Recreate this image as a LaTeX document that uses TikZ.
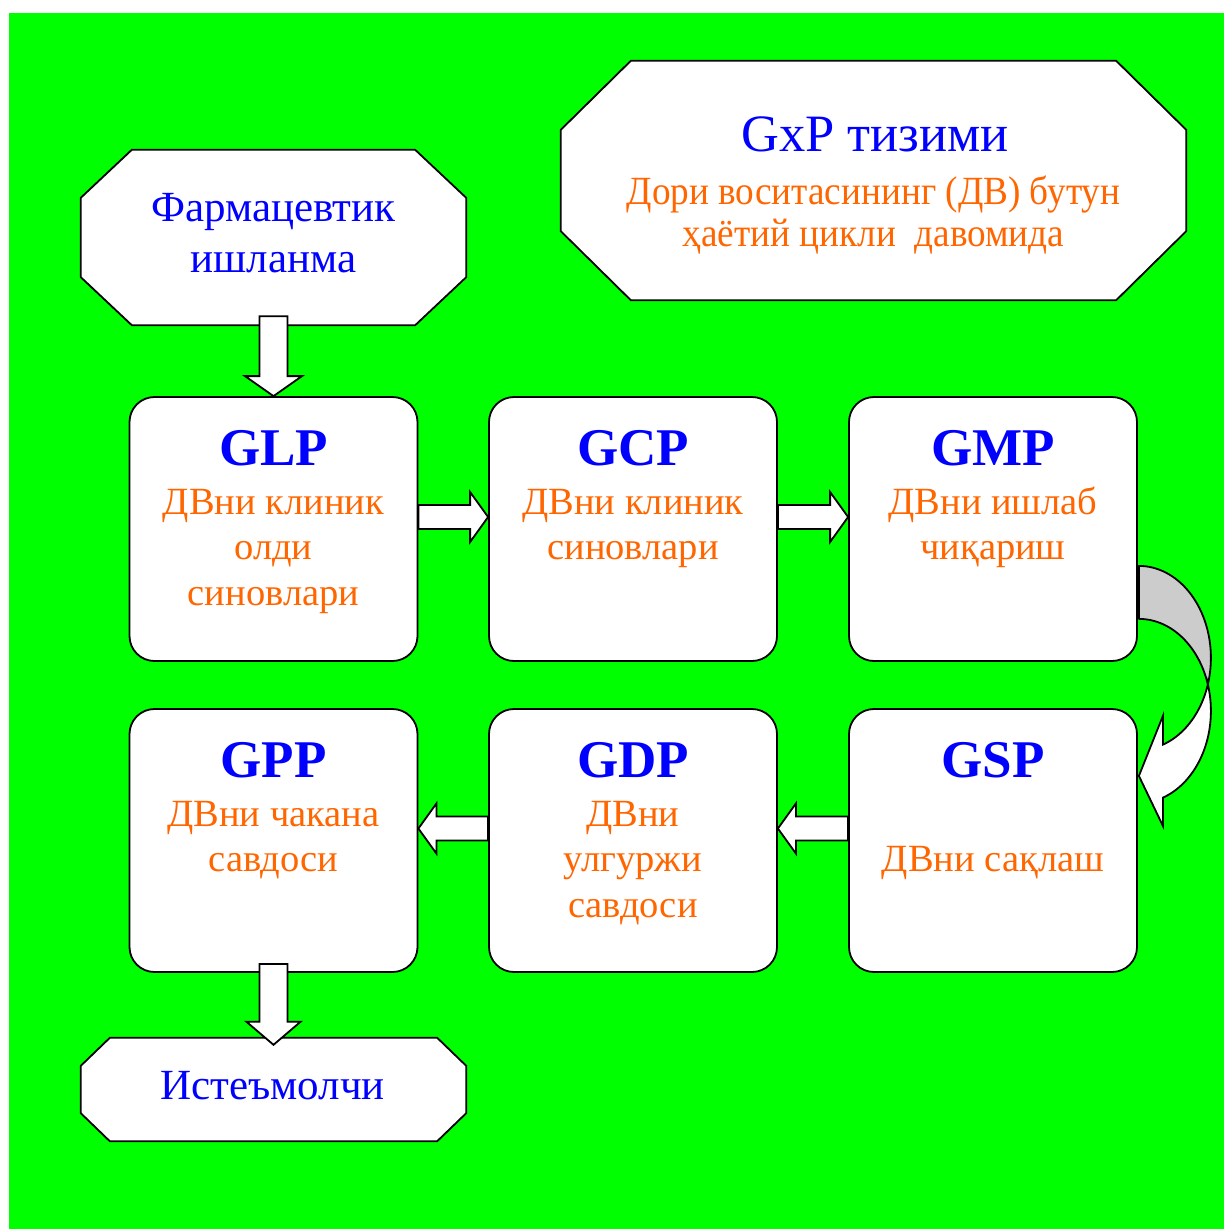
\documentclass[tikz,border=0pt]{standalone}
\usepackage{fontspec}
\setmainfont{Liberation Serif}
\usetikzlibrary{calc}
\definecolor{bggreen}{RGB}{0,255,0}
\definecolor{tblue}{RGB}{0,0,255}
\definecolor{torange}{RGB}{255,102,0}
\definecolor{backgray}{RGB}{204,204,204}
\newcommand\hblk[3]{\draw[blk] let \p1=(#1), \p2=(#2) in
  (\x1,\y1+24pt) -- ({\x2-(#3)},\y1+24pt) -- ({\x2-(#3)},\y1+37pt) -- (\x2,\y1+12pt)
  -- ({\x2-(#3)},\y1-13pt) -- ({\x2-(#3)},\y1) -- (\x1,\y1) -- cycle;}
\newcommand\vblk[4]{\draw[blk] let \p1=(#1), \p2=(#2) in
  (\x2-14pt,\y1) -- (\x2-14pt,\y2+#3) -- (\x2-#4,\y2+#3) -- (\x2,\y2)
  -- (\x2+#4,\y2+#3) -- (\x2+14pt,\y2+#3) -- (\x2+14pt,\y1) -- cycle;}
\begin{document}
\begin{tikzpicture}[x=1pt,y=-1pt,
  box/.style={draw=black, line width=1.8pt, fill=white, rounded corners=25pt,
    minimum width=288pt, minimum height=264pt, inner sep=0pt},
  octa/.style={draw=black, line width=1.8pt, fill=white, line join=miter},
  blk/.style={draw=black, line width=1.8pt, fill=white, line join=miter},
  ttl/.style={font=\fontsize{53}{53}\selectfont\bfseries, text=tblue, anchor=base, inner sep=0pt},
  otx/.style={font=\fontsize{38.5}{38.5}\selectfont, text=torange, anchor=base, inner sep=0pt},
  btx/.style={font=\fontsize{43}{43}\selectfont, text=tblue, anchor=base, inner sep=0pt},
  gtx/.style={font=\fontsize{52.5}{52.5}\selectfont, text=tblue, anchor=base, inner sep=0pt},
  htx/.style={font=\fontsize{40}{40}\selectfont, text=torange, anchor=base, inner sep=0pt},
]
\useasboundingbox (0,0) rectangle (1224,1229);
\fill[white] (0,0) rectangle (1224,1229);
\fill[bggreen] (9,13) rectangle (1224,1229);

% octagon frames
\node[inner sep=0pt, minimum width=385pt, minimum height=175pt] (farm) at (273.5,237.5) {};
\node[inner sep=0pt, minimum width=385pt, minimum height=103pt] (cons) at (273.5,1089.5) {};
\node[inner sep=0pt, minimum width=625pt, minimum height=239pt] (gxp) at (873.5,180.5) {};
\draw[octa] ($(farm.north west)+(51,0)$) -- ($(farm.north east)+(-51,0)$) -- ($(farm.north east)+(0,48)$)
  -- ($(farm.south east)+(0,-48)$) -- ($(farm.south east)+(-51,0)$) -- ($(farm.south west)+(51,0)$)
  -- ($(farm.south west)+(0,-48)$) -- ($(farm.north west)+(0,48)$) -- cycle;
\draw[octa] ($(cons.north west)+(29,0)$) -- ($(cons.north east)+(-29,0)$) -- ($(cons.north east)+(0,28)$)
  -- ($(cons.south east)+(0,-28)$) -- ($(cons.south east)+(-29,0)$) -- ($(cons.south west)+(29,0)$)
  -- ($(cons.south west)+(0,-28)$) -- ($(cons.north west)+(0,28)$) -- cycle;
\draw[octa] ($(gxp.north west)+(70,0)$) -- ($(gxp.north east)+(-70,0)$) -- ($(gxp.north east)+(0,69)$)
  -- ($(gxp.south east)+(0,-69)$) -- ($(gxp.south east)+(-70,0)$) -- ($(gxp.south west)+(70,0)$)
  -- ($(gxp.south west)+(0,-69)$) -- ($(gxp.north west)+(0,69)$) -- cycle;

% boxes
\node[box] (glp) at (273.5,529) {};
\node[box] (gcp) at (633,529) {};
\node[box] (gmp) at (993,529) {};
\node[box, minimum height=263pt] (gpp) at (273.5,840.5) {};
\node[box, minimum height=263pt] (gdp) at (633,840.5) {};
\node[box, minimum height=263pt] (gsp) at (993,840.5) {};

% texts
\node[btx] (farmA) at ($(farm.north)+(0,72)$) {Фармацевтик};
\node[btx] (farmB) at ($(farm.north)+(0,123)$) {ишланма};
\node[btx] (consA) at ($(cons.north)+(-1,62)$) {Истеъмолчи};
\node[gtx] (gxpA) at ($(gxp.north)+(1.5,91)$) {GxP тизими};
\node[htx] (gxpB) at ($(gxp.north)+(0,144)$) {\scalebox{0.93}[1]{Дори воситасининг (ДВ) бутун}};
\node[htx] (gxpC) at ($(gxp.north)+(0,186)$) {\scalebox{0.93}[1]{ҳаётий цикли~~давомида}};

\node[ttl] (glpT) at ($(glp.north)+(0,69)$) {GLP};
\node[otx] (glpA) at ($(glp.north)+(0,118)$) {ДВни клиник};
\node[otx] (glpB) at ($(glp.north)+(0,163.5)$) {олди};
\node[otx] (glpC) at ($(glp.north)+(0,209)$) {синовлари};
\node[ttl] (gcpT) at ($(gcp.north)+(0,69)$) {GCP};
\node[otx] (gcpA) at ($(gcp.north)+(0,118)$) {ДВни клиник};
\node[otx] (gcpB) at ($(gcp.north)+(0,163.5)$) {синовлари};
\node[ttl] (gmpT) at ($(gmp.north)+(0,69)$) {GMP};
\node[otx] (gmpA) at ($(gmp.north)+(0,118)$) {ДВни ишлаб};
\node[otx] (gmpB) at ($(gmp.north)+(0,163.5)$) {чиқариш};
\node[ttl] (gppT) at ($(gpp.north)+(0,69)$) {GPP};
\node[otx] (gppA) at ($(gpp.north)+(0,118)$) {ДВни чакана};
\node[otx] (gppB) at ($(gpp.north)+(0,163.5)$) {савдоси};
\node[ttl] (gdpT) at ($(gdp.north)+(0,69)$) {GDP};
\node[otx] (gdpA) at ($(gdp.north)+(0,118)$) {ДВни};
\node[otx] (gdpB) at ($(gdp.north)+(0,163.5)$) {улгуржи};
\node[otx] (gdpC) at ($(gdp.north)+(0,209)$) {савдоси};
\node[ttl] (gspT) at ($(gsp.north)+(0,69)$) {GSP};
\node[otx] (gspA) at ($(gsp.north)+(0,163.5)$) {ДВни сақлаш};

% straight block arrows
\coordinate (farmS) at ($(farm.south)+(0,-9)$);
\vblk{farmS}{glp.north}{20pt}{28.5pt}
\coordinate (gppS) at ($(gpp.south)+(0,-9)$);
\coordinate (consN) at ($(cons.north)+(0,7)$);
\vblk{gppS}{consN}{23pt}{27pt}
\hblk{glp.east}{gcp.west}{18pt}
\hblk{gcp.east}{gmp.west}{18pt}
\hblk{gsp.west}{gdp.east}{-18pt}
\hblk{gdp.west}{gpp.east}{-18pt}

% curved arrow GMP -> GSP
\begin{scope}[shift={(gmp.south east)}]
  \filldraw[fill=backgray, line width=1.8pt, line join=round]
    plot[domain=90:-16.75, samples=40, variable=\t] ({1+72*cos(\t)},{-4-92*sin(\t)})
    -- plot[domain=16.75:90, samples=40, variable=\t] ({1+72*cos(\t)},{49-92*sin(\t)})
    -- cycle;
  \filldraw[fill=white, line width=1.8pt, line join=miter]
    plot[domain=16.75:-70.53, samples=50, variable=\t] ({1+72*cos(\t)},{49-92*sin(\t)})
    -- (25,164) -- (1,114) -- (25,54)
    -- plot[domain=-70.53:-16.75, samples=40, variable=\t] ({1+72*cos(\t)},{-4-92*sin(\t)})
    -- cycle;
\end{scope}
\end{tikzpicture}
\end{document}
